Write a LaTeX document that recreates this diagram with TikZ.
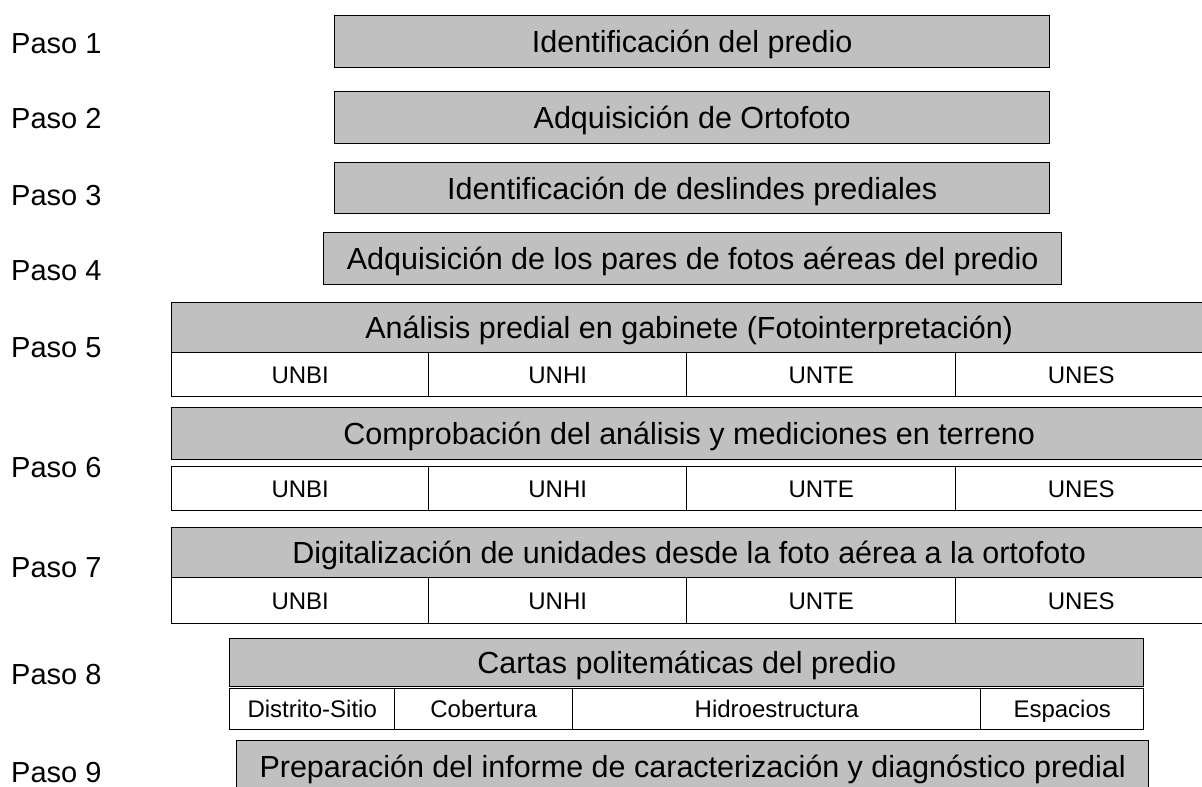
\documentclass[tikz,border=0pt]{standalone}
\usepackage{fontspec}
\setmainfont{Liberation Sans}
\usepackage{tikz}
\usepackage{xcolor}
\definecolor{cajagris}{RGB}{192,192,192}

\begin{document}
\begin{tikzpicture}[x=1pt,y=-1pt,
  paso/.style={anchor=base west,inner sep=0pt,font=\fontsize{29}{29}\selectfont},
  caja/.style={draw,line width=1.4pt,fill=cajagris,anchor=north west,inner sep=0pt,text height=21.8pt,text depth=0pt,font=\fontsize{30.5}{30.5}\selectfont},
  celda/.style={draw,line width=1.4pt,fill=white,anchor=north west,inner sep=0pt,text height=17.2pt,text depth=0pt,font=\fontsize{24}{24}\selectfont}]
\useasboundingbox (0,0) rectangle (1202,787);

% etiquetas de los pasos
\node[paso] (paso1) at (11,53) {Paso 1};
\node[paso] (paso2) at (11,128) {Paso 2};
\node[paso] (paso3) at (11,205) {Paso 3};
\node[paso] (paso4) at (11,280) {Paso 4};
\node[paso] (paso5) at (11,357) {Paso 5};
\node[paso] (paso6) at (11,477) {Paso 6};
\node[paso] (paso7) at (11,577) {Paso 7};
\node[paso] (paso8) at (11,684) {Paso 8};
\node[paso] (paso9) at (11,782) {Paso 9};

% pasos simples
\node[caja,minimum width=715pt,minimum height=52pt] (predio) at (334,15) {Identificación del predio};
\node[caja,minimum width=715pt,minimum height=52pt] (orto) at (334,91) {Adquisición de Ortofoto};
\node[caja,minimum width=715pt,minimum height=51pt] (deslindes) at (334,162) {Identificación de deslindes prediales};
\node[caja,minimum width=738pt,minimum height=52pt] (fotos) at (323,232) {Adquisición de los pares de fotos aéreas del predio};

% pasos con unidades
\node[caja,minimum width=1035pt,minimum height=50pt] (analisis) at (171,302) {Análisis predial en gabinete (Fotointerpretación)};
\node[caja,minimum width=1035pt,minimum height=52pt] (terreno) at (171,407) {Comprobación del análisis y mediciones en terreno};
\node[caja,minimum width=1035pt,minimum height=50pt] (digital) at (171,527) {Digitalización de unidades desde la foto aérea a la ortofoto};
\foreach \n/\y/\h in {5/352/44,6/466/44,7/577/46}{
  \node[celda,minimum width=257pt,minimum height=\h pt] (unbi\n) at (171,\y) {UNBI};
  \node[celda,minimum width=258pt,minimum height=\h pt] (unhi\n) at (428,\y) {UNHI};
  \node[celda,minimum width=269pt,minimum height=\h pt] (unte\n) at (686,\y) {UNTE};
  \node[celda,minimum width=251pt,minimum height=\h pt] (unes\n) at (955,\y) {UNES};
}

% cartas
\node[caja,minimum width=914pt,minimum height=48pt] (cartas) at (229,638) {Cartas politemáticas del predio};
\node[celda,minimum width=165pt,minimum height=41pt] (distrito) at (229,688) {Distrito-Sitio};
\node[celda,minimum width=178pt,minimum height=41pt] (cobertura) at (394,688) {Cobertura};
\node[celda,minimum width=408pt,minimum height=41pt] (hidro) at (572,688) {Hidroestructura};
\node[celda,minimum width=163pt,minimum height=41pt] (espacios) at (980,688) {Espacios};

% informe
\node[caja,minimum width=912pt,minimum height=52pt] (informe) at (236,740) {Preparación del informe de caracterización y diagnóstico predial};
\end{tikzpicture}
\end{document}
